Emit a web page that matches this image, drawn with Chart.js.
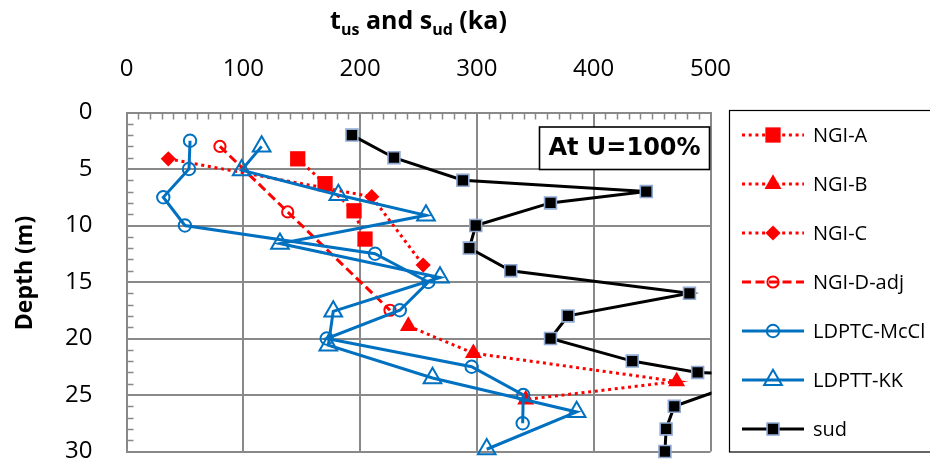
<!DOCTYPE html>
<html><head><meta charset="utf-8">
<script src="https://cdn.jsdelivr.net/npm/chart.js@4/dist/chart.umd.min.js"></script>
<style>html,body{margin:0;padding:0;background:#fff;} canvas{display:block;}</style>
</head><body>
<canvas id="c" width="930" height="466"></canvas>
<script>
// ---- tick labels / categories ----
const xTickValues = [0, 100, 200, 300, 400, 500];
const depthTickValues = [0, 5, 10, 15, 20, 25, 30];
const seriesNames = ['NGI-A', 'NGI-B', 'NGI-C', 'NGI-D-adj', 'LDPTC-McCl', 'LDPTT-KK', 'sud'];

// ---- series values (strength, depth) ----
const ngiA_val = [146.6, 170, 194.8, 204.2];
const ngiA_depth = [4.1, 6.3, 8.7, 11.2];
const ngiB_val = [241.3, 297, 471, 341.8];
const ngiB_depth = [18.9, 21.3, 23.8, 25.4];
const ngiC_val = [35.8, 210, 254];
const ngiC_depth = [4.1, 7.45, 13.5];
const ngiD_val = [80, 138, 225.6];
const ngiD_depth = [3.0, 8.8, 17.5];
const mccl_val = [54.4, 53.5, 31.5, 50, 212.8, 258.4, 234, 171.4, 295.5, 339.7, 339.2];
const mccl_depth = [2.5, 5, 7.5, 10, 12.5, 15, 17.5, 20, 22.5, 25, 27.5];
const kk_val = [115.7, 98.6, 181.4, 256.4, 131.4, 268.4, 177, 172.8, 262, 385.4, 308.4];
const kk_depth = [3.0, 5.1, 7.3, 9.1, 11.6, 14.6, 17.6, 20.6, 23.5, 26.5, 29.8];
const sud_val = [193, 229, 288, 445, 363, 299, 293.5, 329, 482, 378, 363, 433, 489, 545, 469, 462, 461];
const sud_depth = [2, 4, 6, 7, 8, 10, 12, 14, 16, 18, 20, 22, 23, 23.2, 26, 28, 30];

const annotationText = 'At U=100%';

// ---- styling ----
const RED = '#FF0000', BLUE = '#0070C0', BLACK = '#000000', GRID = '#898989';
const DOT = [3, 3.7], DASH = [9, 4.5];
const pts = (v, d) => v.map((x, i) => ({x: x, y: d[i]}));

const datasets = [
  {label: seriesNames[0], data: pts(ngiA_val, ngiA_depth), borderColor: RED, borderWidth: 3, borderDash: DOT,
   pointStyle: 'rect', pointRadius: 10.8, pointBackgroundColor: RED, pointBorderColor: RED, pointBorderWidth: 0, order: 7, clip: false},
  {label: seriesNames[1], data: pts(ngiB_val, ngiB_depth), borderColor: RED, borderWidth: 3, borderDash: DOT,
   pointStyle: 'triangle', pointRadius: 9.8, pointBackgroundColor: RED, pointBorderColor: RED, pointBorderWidth: 0, order: 6, clip: false},
  {label: seriesNames[2], data: pts(ngiC_val, ngiC_depth), borderColor: RED, borderWidth: 3, borderDash: DOT,
   pointStyle: 'rectRot', pointRadius: 7.6, pointBackgroundColor: RED, pointBorderColor: RED, pointBorderWidth: 0, order: 5, clip: false},
  {label: seriesNames[3], data: pts(ngiD_val, ngiD_depth), borderColor: RED, borderWidth: 3, borderDash: DASH,
   pointStyle: 'circle', pointRadius: 5.6, pointBackgroundColor: 'rgba(0,0,0,0)', pointBorderColor: RED, pointBorderWidth: 2, order: 4, clip: false},
  {label: seriesNames[4], data: pts(mccl_val, mccl_depth), borderColor: BLUE, borderWidth: 3, borderDash: [],
   pointStyle: 'circle', pointRadius: 6.2, pointBackgroundColor: 'rgba(0,0,0,0)', pointBorderColor: BLUE, pointBorderWidth: 2, order: 3, clip: false},
  {label: seriesNames[5], data: pts(kk_val, kk_depth), borderColor: BLUE, borderWidth: 3, borderDash: [],
   pointStyle: 'triangle', pointRadius: 10.2, pointBackgroundColor: 'rgba(0,0,0,0)', pointBorderColor: BLUE, pointBorderWidth: 2, order: 2, clip: false},
  {label: seriesNames[6], data: pts(sud_val, sud_depth), borderColor: BLACK, borderWidth: 3, borderDash: [],
   pointStyle: 'rect', pointRadius: 8.4, pointBackgroundColor: BLACK, pointBorderColor: '#8FA9D2', pointBorderWidth: 1.6, order: 1,
   clip: {left: false, top: false, right: 1, bottom: false}}
];

function drawMarker(ctx, ds, x, y) {
  ctx.save();
  ctx.setLineDash([]);
  ctx.fillStyle = ds.pointBackgroundColor;
  ctx.strokeStyle = ds.pointBorderColor;
  ctx.lineWidth = ds.pointBorderWidth;
  const opts = {pointStyle: ds.pointStyle, radius: ds.pointRadius, rotation: 0, borderWidth: ds.pointBorderWidth};
  if (Chart.helpers && Chart.helpers.drawPoint) {
    Chart.helpers.drawPoint(ctx, opts, x, y);
  } else {
    ctx.beginPath(); ctx.arc(x, y, ds.pointRadius, 0, Math.PI * 2); ctx.fill(); if (ds.pointBorderWidth > 0) ctx.stroke();
  }
  ctx.restore();
}

const deco = {
  id: 'deco',
  beforeDatasetsDraw(chart) {
    const ctx = chart.ctx, a = chart.chartArea;
    const xs = chart.scales.x, ys = chart.scales.y;
    ctx.save();
    ctx.strokeStyle = GRID; ctx.lineWidth = 1.5;
    ctx.beginPath();
    for (let v = 10; v < 500; v += 10) {
      if (v % 100 === 0) continue;
      const px = Math.round(xs.getPixelForValue(v)) + 0.5;
      ctx.moveTo(px, a.top); ctx.lineTo(px, a.top + 7);
    }
    for (let d = 1; d < 30; d++) {
      if (d % 5 === 0) continue;
      const py = Math.round(ys.getPixelForValue(d)) + 0.5;
      ctx.moveTo(a.left, py); ctx.lineTo(a.left + 7, py);
    }
    ctx.stroke();
    ctx.restore();
  },
  afterDraw(chart) {
    const ctx = chart.ctx, a = chart.chartArea;
    ctx.save();
    ctx.fillStyle = '#000';
    // x title with subscripts
    const parts = [['t', 0], ['us', 1], [' and s', 0], ['ud', 1], [' (ka)', 0]];
    const mainF = 'bold 25px "Open Sans"', subF = 'bold 16px "Open Sans"';
    let w = 0;
    parts.forEach(p => { ctx.font = p[1] ? subF : mainF; w += ctx.measureText(p[0]).width; });
    let x = (a.left + a.right) / 2 - w / 2;
    const base = 29;
    ctx.textBaseline = 'alphabetic'; ctx.textAlign = 'left';
    parts.forEach(p => {
      ctx.font = p[1] ? subF : mainF;
      ctx.fillText(p[0], x, base + (p[1] ? 6 : 0));
      x += ctx.measureText(p[0]).width;
    });
    // y title
    ctx.save();
    ctx.translate(25, 273);
    ctx.rotate(-Math.PI / 2);
    ctx.font = 'bold 23px "Open Sans"';
    ctx.textAlign = 'center'; ctx.textBaseline = 'middle';
    ctx.fillText('Depth (m)', 0, 0);
    ctx.restore();
    // annotation box
    const bx = a.right - 171, by = a.top + 14.5, bw = 170, bh = 42.5;
    ctx.fillStyle = '#fff';
    ctx.fillRect(bx, by, bw, bh);
    ctx.strokeStyle = '#000'; ctx.lineWidth = 1.6;
    ctx.strokeRect(bx, by, bw, bh);
    ctx.fillStyle = '#000';
    ctx.font = 'bold 24px "DejaVu Sans"';
    ctx.textAlign = 'center'; ctx.textBaseline = 'middle';
    ctx.fillText(annotationText, bx + bw / 2, by + bh / 2 + 1);
    // legend
    const lx = 729.5, ly = 110.5, lh = 341.5;
    ctx.fillStyle = '#fff';
    ctx.fillRect(lx, ly, 260, lh);
    ctx.strokeStyle = '#000'; ctx.lineWidth = 1.2;
    ctx.strokeRect(lx, ly, 260, lh);
    chart.data.datasets.forEach((ds, i) => {
      const yy = 135 + i * 49;
      ctx.save();
      ctx.strokeStyle = ds.borderColor; ctx.lineWidth = ds.borderWidth;
      ctx.setLineDash(ds.borderDash || []);
      ctx.lineCap = 'butt';
      ctx.beginPath(); ctx.moveTo(742, yy); ctx.lineTo(804, yy); ctx.stroke();
      ctx.restore();
      drawMarker(ctx, ds, 773, yy);
      ctx.fillStyle = '#000';
      ctx.font = '20px "Open Sans"';
      ctx.textAlign = 'left'; ctx.textBaseline = 'middle';
      ctx.fillText(ds.label, 813, yy + 1);
    });
    ctx.restore();
  }
};

function build() {
  new Chart(document.getElementById('c'), {
    type: 'line',
    data: {datasets: datasets},
    options: {
      responsive: false,
      devicePixelRatio: 1,
      animation: false,
      events: [],
      layout: {padding: {left: 0, top: 0, right: 219.5, bottom: 14.5}},
      plugins: {legend: {display: false}, tooltip: {enabled: false}, title: {display: false}},
      elements: {line: {tension: 0, fill: false, borderCapStyle: 'butt'}},
      scales: {
        x: {
          type: 'linear', position: 'top',
          min: xTickValues[0], max: xTickValues[xTickValues.length - 1],
          ticks: {stepSize: xTickValues[1] - xTickValues[0], color: '#000', padding: 29,
                  font: {family: 'Open Sans', size: 24}},
          grid: {color: GRID, lineWidth: 2, drawTicks: false},
          border: {color: GRID, width: 2},
          afterFit(s) { s.height = 112.5; }
        },
        y: {
          type: 'linear', position: 'left', reverse: true,
          min: depthTickValues[0], max: depthTickValues[depthTickValues.length - 1],
          ticks: {stepSize: depthTickValues[1] - depthTickValues[0], color: '#000', padding: 34,
                  font: {family: 'Open Sans', size: 24}},
          grid: {color: GRID, lineWidth: 2, drawTicks: false},
          border: {color: GRID, width: 2},
          afterFit(s) { s.width = 126.5; s.paddingTop = 0; s.paddingBottom = 0; }
        }
      }
    },
    plugins: [deco]
  });
}

const fl = ['24px "Open Sans"', 'bold 25px "Open Sans"', '20px "Open Sans"', 'bold 24px "DejaVu Sans"'];
Promise.all(fl.map(f => document.fonts.load(f).catch(() => null))).then(build, build);
</script>
</body></html>
